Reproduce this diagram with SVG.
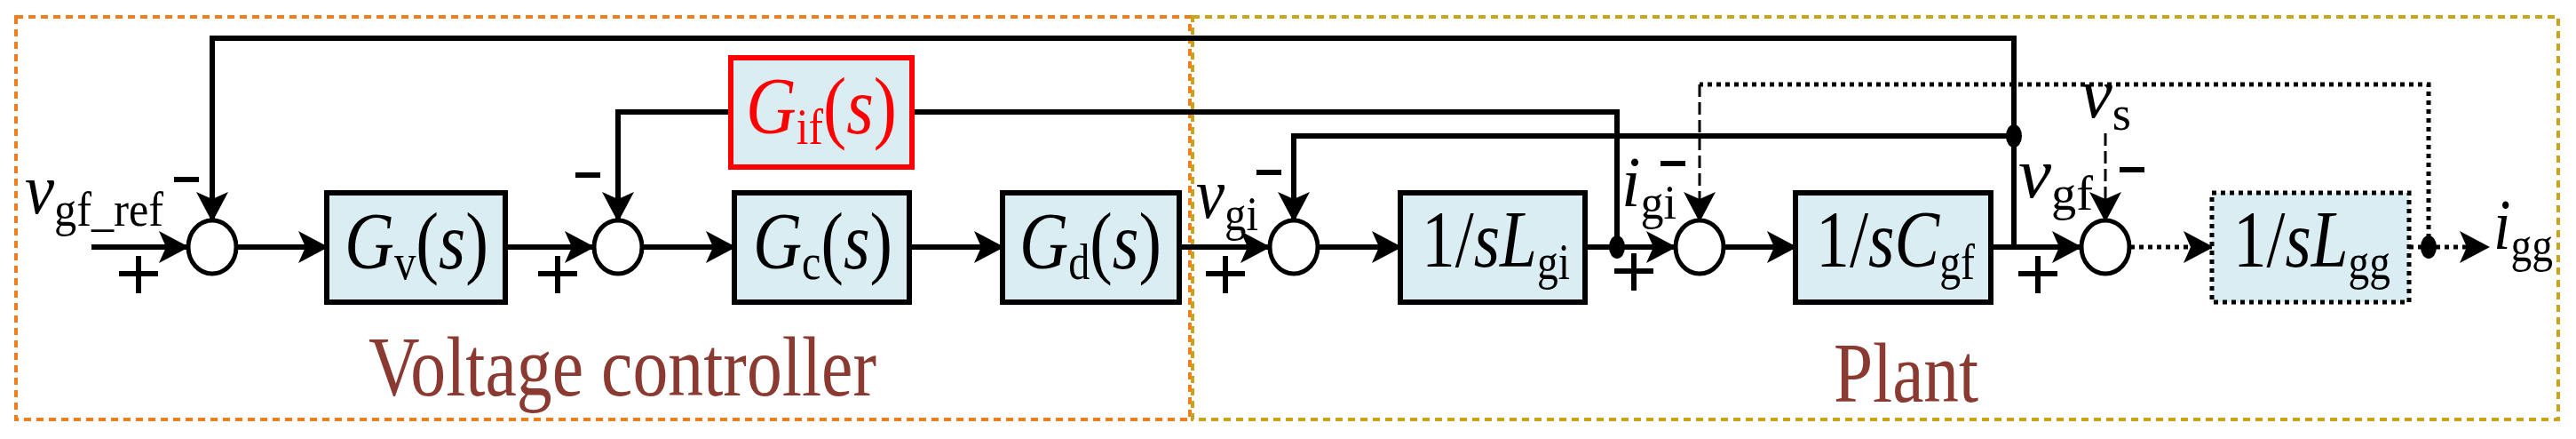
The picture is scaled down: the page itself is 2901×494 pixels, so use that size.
<svg xmlns="http://www.w3.org/2000/svg" width="2901" height="494" viewBox="0 0 2901 494" font-family="'Liberation Serif', serif">
<style>
.blk{fill:#daedf3;stroke:#000;stroke-width:6}
.sum{fill:#fff;stroke:#000;stroke-width:5}
.w{fill:none;stroke:#000;stroke-width:6}
.dt{fill:none;stroke:#000;stroke-width:5;stroke-dasharray:5 5}
.ds{fill:none;stroke:#000;stroke-width:3;stroke-dasharray:14 6}
.pl{fill:none;stroke:#000;stroke-width:6}
text{font-family:"Liberation Serif","Times New Roman",serif;fill:#000}
.lb{font-size:92px}
.v{font-style:italic}
.sub{font-size:58px;font-style:normal}
.sg{font-size:80px}
.sg .sub{font-size:54px}
.tt{font-size:96px;fill:#8b3a32}
</style>
<defs>
<marker id="a" markerUnits="userSpaceOnUse" markerWidth="34" markerHeight="36" refX="32" refY="18" orient="auto"><path d="M0,0 L34,18 L0,36 L8,18 Z" fill="#000"/></marker>
</defs>
<rect x="18" y="19" width="1322" height="453" fill="none" stroke="#f07e1c" stroke-width="4" stroke-dasharray="8 6"/>
<rect x="1343" y="19" width="1538" height="453" fill="none" stroke="#c9a41a" stroke-width="4" stroke-dasharray="8 6"/>
<g id="connectors">
<path class="w" d="M103,278 H211" marker-end="url(#a)"/>
<path class="w" d="M267,278 H368" marker-end="url(#a)"/>
<path class="w" d="M569,278 H668" marker-end="url(#a)"/>
<path class="w" d="M724,278 H827" marker-end="url(#a)"/>
<path class="w" d="M1024,278 H1129" marker-end="url(#a)"/>
<path class="w" d="M1328,278 H1429" marker-end="url(#a)"/>
<path class="w" d="M1485,278 H1577" marker-end="url(#a)"/>
<path class="w" d="M1785,278 H1886" marker-end="url(#a)"/>
<path class="w" d="M1942,278 H2022" marker-end="url(#a)"/>
<path class="w" d="M2242,278 H2343" marker-end="url(#a)"/>
<path class="dt" d="M2399,278 H2491" marker-end="url(#a)"/>
<path class="dt" d="M2713,278 H2802" marker-end="url(#a)"/>
<path class="w" d="M2268,278 V43 H239 V248" marker-end="url(#a)"/>
<path class="w" d="M2268,153 H1457 V248" marker-end="url(#a)"/>
<path class="w" d="M1821,278 V126 H1027"/>
<path class="w" d="M823,126 H696 V248" marker-end="url(#a)"/>
<path class="dt" d="M2735,278 V95 H1914"/>
<path class="ds" d="M1914,95 V248" marker-end="url(#a)"/>
<path class="ds" d="M2371,150 V248" marker-end="url(#a)"/>
<ellipse cx="2268" cy="153" rx="9" ry="13"/>
<ellipse cx="1821" cy="278" rx="9" ry="13"/>
<ellipse cx="2735" cy="278" rx="9" ry="13"/>
</g>
<g id="sum1"><ellipse class="sum" cx="239" cy="278" rx="27" ry="30"/></g>
<g id="sum2"><ellipse class="sum" cx="696" cy="278" rx="27" ry="30"/></g>
<g id="sum3"><ellipse class="sum" cx="1457" cy="278" rx="27" ry="30"/></g>
<g id="sum4"><ellipse class="sum" cx="1914" cy="278" rx="27" ry="30"/></g>
<g id="sum5"><ellipse class="sum" cx="2371" cy="278" rx="27" ry="30"/></g>
<g id="Gv"><rect class="blk" x="368" y="217" width="201" height="123"/><text class="lb" x="388" y="302" textLength="162" lengthAdjust="spacingAndGlyphs"><tspan class="v">G</tspan><tspan class="sub" dy="12">v</tspan><tspan dy="-12">(</tspan><tspan class="v">s</tspan>)</text></g>
<g id="Gif"><rect x="823" y="65" width="204" height="123" fill="#daedf3" stroke="#f00" stroke-width="6"/><text class="lb" x="840" y="150" textLength="170" lengthAdjust="spacingAndGlyphs" style="fill:#f00"><tspan class="v" style="fill:#f00">G</tspan><tspan class="sub" dy="12" style="fill:#f00">if</tspan><tspan dy="-12" style="fill:#f00">(</tspan><tspan class="v" style="fill:#f00">s</tspan><tspan style="fill:#f00">)</tspan></text></g>
<g id="Gc"><rect class="blk" x="827" y="217" width="197" height="123"/><text class="lb" x="848" y="302" textLength="157" lengthAdjust="spacingAndGlyphs"><tspan class="v">G</tspan><tspan class="sub" dy="12">c</tspan><tspan dy="-12">(</tspan><tspan class="v">s</tspan>)</text></g>
<g id="Gd"><rect class="blk" x="1129" y="217" width="199" height="123"/><text class="lb" x="1148" y="302" textLength="160" lengthAdjust="spacingAndGlyphs"><tspan class="v">G</tspan><tspan class="sub" dy="12">d</tspan><tspan dy="-12">(</tspan><tspan class="v">s</tspan>)</text></g>
<g id="Lgi"><rect class="blk" x="1577" y="217" width="208" height="123"/><text class="lb" x="1601" y="300" textLength="167" lengthAdjust="spacingAndGlyphs">1/<tspan class="v">sL</tspan><tspan class="sub" dy="14">gi</tspan></text></g>
<g id="Cgf"><rect class="blk" x="2022" y="217" width="220" height="123"/><text class="lb" x="2045" y="300" textLength="179" lengthAdjust="spacingAndGlyphs">1/<tspan class="v">sC</tspan><tspan class="sub" dy="14">gf</tspan></text></g>
<g id="Lgg"><rect x="2491" y="217" width="222" height="123" fill="#daedf3" stroke="#000" stroke-width="5" stroke-dasharray="5 5"/><text class="lb" x="2515" y="300" textLength="177" lengthAdjust="spacingAndGlyphs">1/<tspan class="v">sL</tspan><tspan class="sub" dy="14">gg</tspan></text></g>
<g id="labels">
<text class="sg" x="28" y="240" textLength="156" lengthAdjust="spacingAndGlyphs"><tspan class="v">v</tspan><tspan class="sub" dy="14">gf_ref</tspan></text>
<text class="sg" x="1347" y="245" textLength="70" lengthAdjust="spacingAndGlyphs"><tspan class="v">v</tspan><tspan class="sub" dy="14">gi</tspan></text>
<text class="sg" x="1826" y="232" textLength="62" lengthAdjust="spacingAndGlyphs"><tspan class="v">i</tspan><tspan class="sub" dy="14">gi</tspan></text>
<text class="sg" x="2273" y="222" textLength="84" lengthAdjust="spacingAndGlyphs"><tspan class="v">v</tspan><tspan class="sub" dy="14">gf</tspan></text>
<text class="sg" x="2343" y="132" textLength="57" lengthAdjust="spacingAndGlyphs"><tspan class="v">v</tspan><tspan class="sub" dy="14">s</tspan></text>
<text class="sg" x="2808" y="280" textLength="67" lengthAdjust="spacingAndGlyphs"><tspan class="v">i</tspan><tspan class="sub" dy="14">gg</tspan></text>
<path class="pl" d="M134,308 H178 M156,288 V330 M606,308 H650 M628,288 V330 M1358,308 H1402 M1380,288 V330 M1818,305 H1862 M1840,285 V327 M2273,308 H2317 M2295,288 V330"/>
<g fill="#000">
<rect x="196" y="199" width="28" height="6"/>
<rect x="648" y="194" width="28" height="6"/>
<rect x="1415" y="191" width="28" height="6"/>
<rect x="1870" y="181" width="28" height="6"/>
<rect x="2387" y="188" width="28" height="6"/>
</g>
<text class="tt" x="415" y="445" textLength="572" lengthAdjust="spacingAndGlyphs">Voltage controller</text>
<text class="tt" x="2065" y="452" textLength="163" lengthAdjust="spacingAndGlyphs">Plant</text>
</g>
</svg>
